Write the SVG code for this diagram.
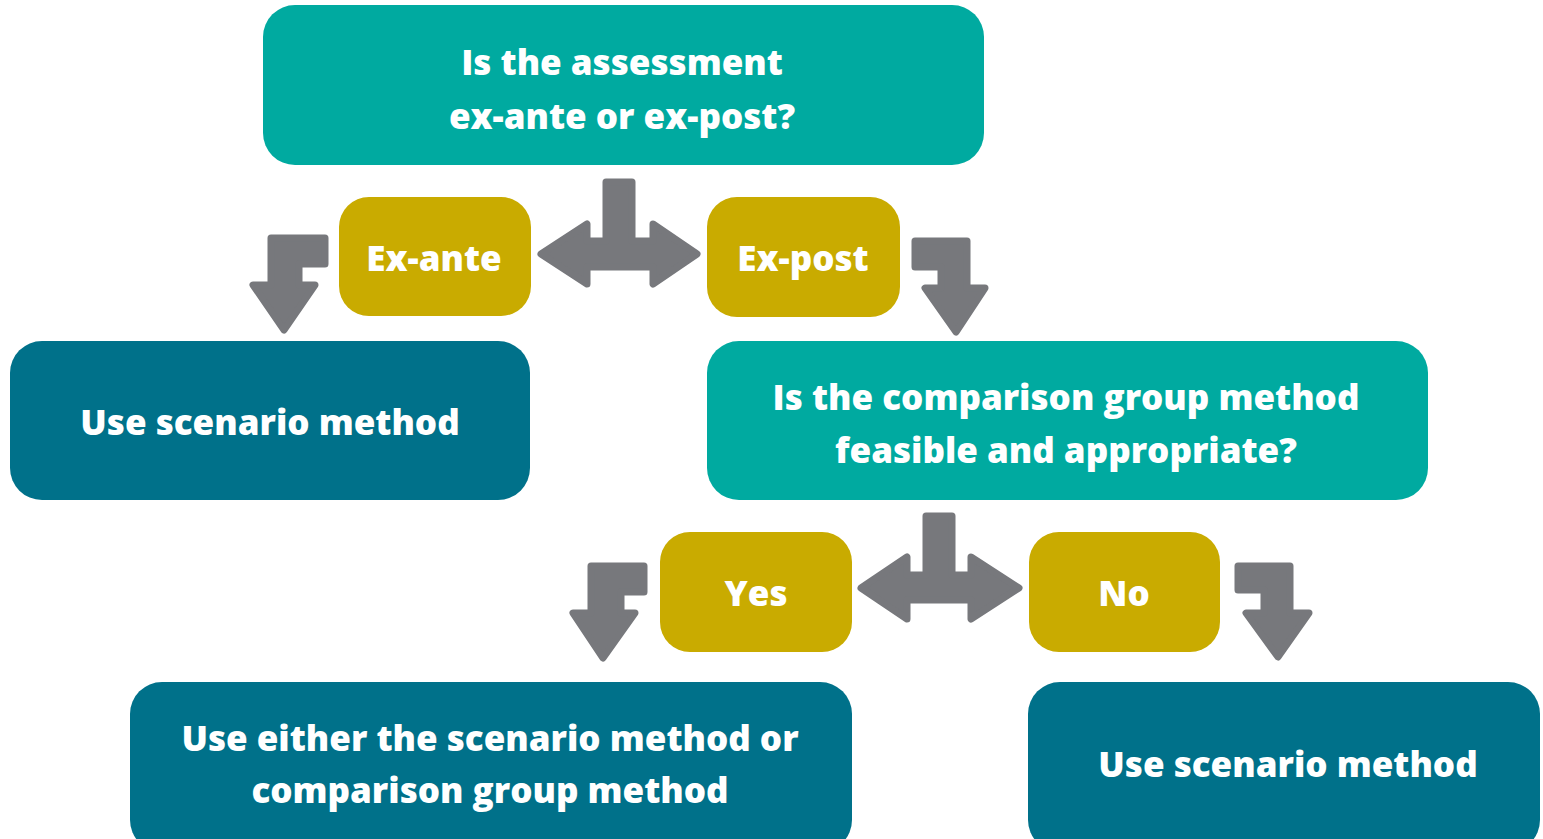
<svg xmlns="http://www.w3.org/2000/svg" width="1543" height="839" viewBox="0 0 1543 839">
<style>
.q{fill:#00aaa0}
.a{fill:#c9ab00}
.r{fill:#00718a}
.arr{fill:#77787c;stroke:#77787c;stroke-width:7;stroke-linejoin:round}
text{font-family:"Open Sans","DejaVu Sans",sans-serif;font-weight:800;fill:#ffffff;text-anchor:middle}
.t{font-size:35px}
</style>
<rect width="1543" height="839" fill="#ffffff"/>
<g id="connectors">
<path class="arr" d="M271,238 L325,238 L325,264 L299,264 L299,285 L315,285 L284,330 L253,285 L271,285 Z"/>
<path class="arr" d="M606,182 L632,182 L632,241 L653,241 L653,224 L697,254 L653,284 L653,267 L587,267 L587,284 L541,254 L587,224 L587,241 L606,241 Z"/>
<path class="arr" d="M915,241 L967,241 L967,288 L985,288 L956,332 L925,288 L941,288 L941,267 L915,267 Z"/>
<path class="arr" d="M591,566 L644,566 L644,592 L621,592 L621,613 L635,613 L603,658 L573,613 L591,613 Z"/>
<path class="arr" d="M926,516 L952,516 L952,575 L971,575 L971,557 L1019,588 L971,619 L971,600 L907,600 L907,619 L861,588 L907,557 L907,575 L926,575 Z"/>
<path class="arr" d="M1238,566 L1290,566 L1290,613 L1309,613 L1278,657 L1246,613 L1264,613 L1264,590 L1238,590 Z"/>
</g>
<g id="n-assessment">
<rect class="q" x="263" y="5" width="721" height="160" rx="32"/>
<text class="t" x="622" y="75">Is the assessment</text>
<text class="t" x="622" y="129">ex-ante or ex-post?</text>
</g>
<g id="n-exante">
<rect class="a" x="339" y="197" width="192" height="119" rx="30"/>
<text class="t" x="434" y="271">Ex-ante</text>
</g>
<g id="n-expost">
<rect class="a" x="707" y="197" width="193" height="120" rx="30"/>
<text class="t" x="803" y="271">Ex-post</text>
</g>
<g id="n-scenario1">
<rect class="r" x="10" y="341" width="520" height="159" rx="32"/>
<text class="t" x="270" y="435">Use scenario method</text>
</g>
<g id="n-comparison">
<rect class="q" x="707" y="341" width="721" height="159" rx="32"/>
<text class="t" x="1066" y="410">Is the comparison group method</text>
<text class="t" x="1066" y="463">feasible and appropriate?</text>
</g>
<g id="n-yes">
<rect class="a" x="660" y="532" width="192" height="120" rx="30"/>
<text class="t" x="756" y="606">Yes</text>
</g>
<g id="n-no">
<rect class="a" x="1029" y="532" width="191" height="120" rx="30"/>
<text class="t" x="1124" y="606">No</text>
</g>
<g id="n-either">
<rect class="r" x="130" y="682" width="722" height="170" rx="32"/>
<text class="t" x="490" y="751">Use either the scenario method or</text>
<text class="t" x="490" y="803">comparison group method</text>
</g>
<g id="n-scenario2">
<rect class="r" x="1028" y="682" width="512" height="170" rx="32"/>
<text class="t" x="1288" y="777">Use scenario method</text>
</g>
</svg>
